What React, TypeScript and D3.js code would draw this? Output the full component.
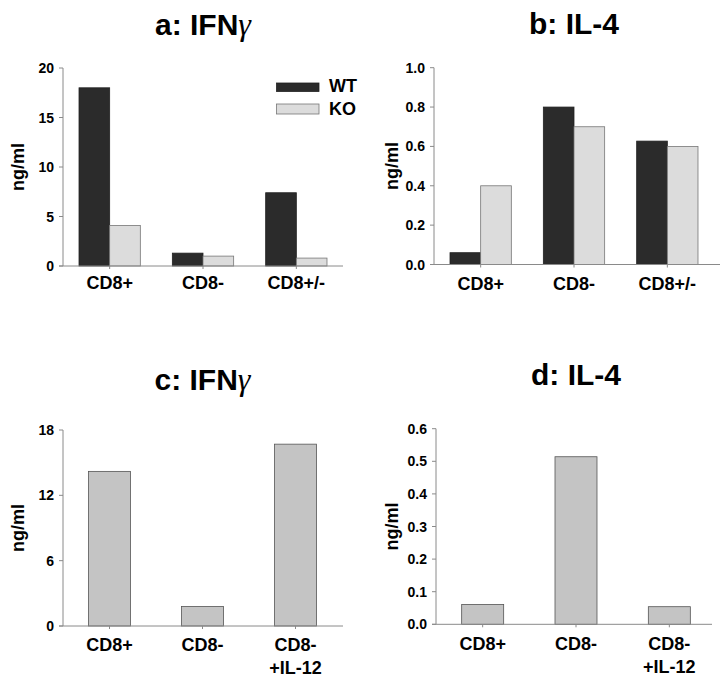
import React from "react";
import * as d3 from "d3";

// ---- data ----
const groupsAB = ["CD8+", "CD8-", "CD8+/-"];
const seriesNames = ["WT", "KO"];
const ifngWT = [18.0, 1.3, 7.4];
const ifngKO = [4.1, 1.0, 0.8];
const il4WT = [0.06, 0.8, 0.627];
const il4KO = [0.4, 0.7, 0.6];

const groupsCD = ["CD8+", "CD8-", "CD8-\n+IL-12"];
const ifngC = [14.2, 1.8, 16.7];
const il4D = [0.061, 0.514, 0.054];

const ticksA = [0, 5, 10, 15, 20];
const ticksB = [0, 0.2, 0.4, 0.6, 0.8, 1.0];
const ticksC = [0, 6, 12, 18];
const ticksD = [0, 0.1, 0.2, 0.3, 0.4, 0.5, 0.6];

const FONT = "'Liberation Sans', Arial, Helvetica, sans-serif";
const DARK = "#2b2b2b";
const LIGHT = "#dcdcdc";
const MID = "#c4c4c4";

type PanelProps = {
  letter: string;
  name: string;
  gamma?: boolean;
  titleY: number;
  axisX: number;
  rangeEnd: number;
  axisEnd: number;
  yZero: number;
  yTop: number;
  max: number;
  ticks: number[];
  fmt: (v: number) => string;
  cats: string[];
  series: number[][];
  colors: string[];
  strokes: string[];
  padding: number;
  labelX: number;
  catY: number;
};

function Panel(p: PanelProps) {
  const y = d3.scaleLinear().domain([0, p.max]).range([p.yZero, p.yTop]);
  const x = d3
    .scaleBand<string>()
    .domain(p.cats)
    .range([p.axisX, p.rangeEnd])
    .paddingInner(p.padding)
    .paddingOuter(p.padding / 2);
  const inner = d3
    .scaleBand<number>()
    .domain(p.series.map((_, i) => i))
    .range([0, x.bandwidth()]);
  const cx = (p.axisX + p.rangeEnd) / 2;
  const midY = (p.yZero + p.yTop) / 2;
  return (
    <g fontFamily={FONT} fill="#000">
      <text x={cx} y={p.titleY} textAnchor="middle" fontSize={30} fontWeight="bold">
        {p.letter}: {p.name}
        {p.gamma ? (
          <tspan fontFamily="'Liberation Serif', 'Times New Roman', serif" fontStyle="italic" fontWeight="normal" fontSize={32}>
            γ
          </tspan>
        ) : null}
      </text>
      <text
        transform={`translate(${p.labelX},${midY}) rotate(-90)`}
        textAnchor="middle"
        fontSize={18}
        fontWeight="bold"
      >
        ng/ml
      </text>
      {p.series.map((vals, si) =>
        vals.map((v, ci) => (
          <rect
            key={`${si}-${ci}`}
            x={(x(p.cats[ci]) as number) + (inner(si) as number)}
            y={y(v)}
            width={inner.bandwidth()}
            height={p.yZero - y(v)}
            fill={p.colors[si]}
            stroke={p.strokes[si]}
            strokeWidth={0.8}
          />
        ))
      )}
      <line x1={p.axisX} x2={p.axisX} y1={p.yTop} y2={p.yZero} stroke="#8a8a8a" strokeWidth={1} />
      <line x1={p.axisX - 4} x2={p.axisEnd} y1={p.yZero} y2={p.yZero} stroke="#8a8a8a" strokeWidth={1} />
      {p.ticks.map((t) => (
        <g key={t}>
          <line x1={p.axisX - 4} x2={p.axisX} y1={y(t)} y2={y(t)} stroke="#8a8a8a" />
          <text x={p.axisX - 9} y={y(t) + 5} textAnchor="end" fontSize={14} fontWeight="bold">
            {p.fmt(t)}
          </text>
        </g>
      ))}
      {p.cats.map((c) => {
        const lines = c.split("\n");
        const bx = (x(c) as number) + x.bandwidth() / 2;
        return (
          <g key={c}>
            <line x1={bx} x2={bx} y1={p.yZero} y2={p.yZero + 3} stroke="#8a8a8a" />
            <text x={bx} y={p.catY} textAnchor="middle" fontSize={18} fontWeight="bold">
              {lines.map((l, i) => (
                <tspan key={i} x={bx} dy={i === 0 ? 0 : 23}>
                  {l}
                </tspan>
              ))}
            </text>
          </g>
        );
      })}
    </g>
  );
}

export default function App() {
  return (
    <svg width={720} height={680} style={{ position: "absolute", left: 0, top: 0, background: "#fff" }}>
      <rect width={720} height={680} fill="#fff" />
      <Panel
        letter="a"
        name="IFN"
        gamma
        titleY={35}
        axisX={63}
        rangeEnd={343}
        axisEnd={343}
        yZero={266}
        yTop={68}
        max={20}
        ticks={ticksA}
        fmt={d3.format("d")}
        cats={groupsAB}
        series={[ifngWT, ifngKO]}
        colors={[DARK, LIGHT]}
        strokes={["#222", "#777"]}
        padding={0.343}
        labelX={24}
        catY={289}
      />
      <g fontFamily={FONT} fontWeight="bold" fontSize={18} fill="#000">
        {seriesNames.map((s, i) => (
          <g key={s}>
            <rect
              x={276.5}
              y={i === 0 ? 83 : 104}
              width={42.5}
              height={i === 0 ? 8.5 : 10}
              fill={i === 0 ? DARK : LIGHT}
              stroke={i === 0 ? "#222" : "#777"}
              strokeWidth={0.8}
            />
            <text x={329} y={i === 0 ? 92 : 115}>
              {s}
            </text>
          </g>
        ))}
      </g>
      <Panel
        letter="b"
        name="IL-4"
        titleY={34}
        axisX={434}
        rangeEnd={714}
        axisEnd={720}
        yZero={264.5}
        yTop={67.7}
        max={1.0}
        ticks={ticksB}
        fmt={d3.format(".1f")}
        cats={groupsAB}
        series={[il4WT, il4KO]}
        colors={[DARK, LIGHT]}
        strokes={["#222", "#777"]}
        padding={0.343}
        labelX={398}
        catY={290}
      />
      <Panel
        letter="c"
        name="IFN"
        gamma
        titleY={390}
        axisX={63}
        rangeEnd={342}
        axisEnd={343}
        yZero={626}
        yTop={430}
        max={18}
        ticks={ticksC}
        fmt={d3.format("d")}
        cats={groupsCD}
        series={[ifngC]}
        colors={[MID]}
        strokes={["#555"]}
        padding={0.55}
        labelX={24}
        catY={651}
      />
      <Panel
        letter="d"
        name="IL-4"
        titleY={385}
        axisX={436}
        rangeEnd={716}
        axisEnd={712}
        yZero={624.3}
        yTop={428.7}
        max={0.6}
        ticks={ticksD}
        fmt={d3.format(".1f")}
        cats={groupsCD}
        series={[il4D]}
        colors={[MID]}
        strokes={["#555"]}
        padding={0.55}
        labelX={398}
        catY={650}
      />
    </svg>
  );
}
